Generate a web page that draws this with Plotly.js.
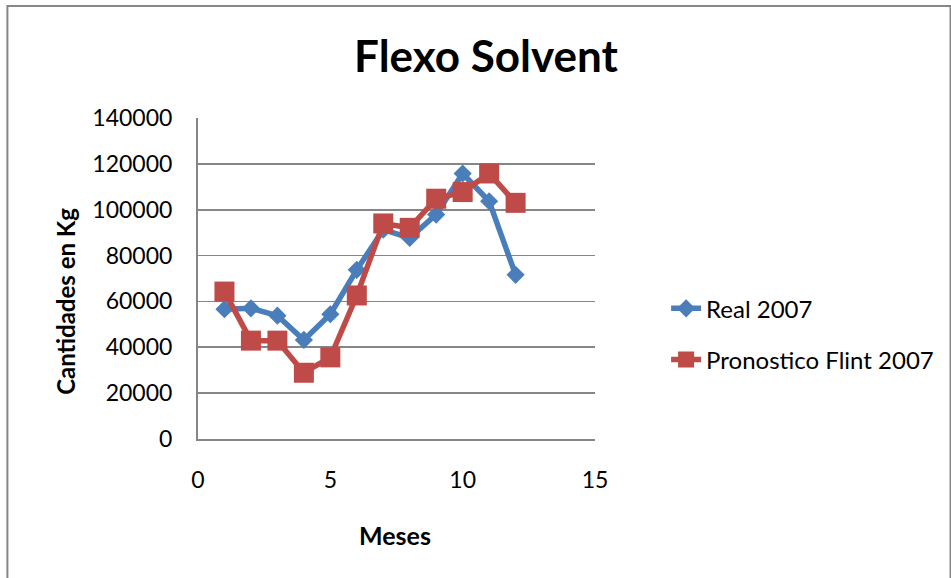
<!DOCTYPE html>
<html>
<head>
<meta charset="utf-8">
<script src="https://cdn.plot.ly/plotly-3.0.1.min.js"></script>
<style>
  html, body { margin: 0; padding: 0; background: #fff; }
  #chart { width: 951px; height: 578px; }
</style>
</head>
<body>
<div id="chart"></div>
<script>
// Monthly quantities (kg) of Flexo Solvent, 2007
const meses = [1, 2, 3, 4, 5, 6, 7, 8, 9, 10, 11, 12];
const real2007 = [56600, 57000, 53800, 43200, 54400, 73800, 91300, 87700, 97900, 115800, 103700, 71600];
const pronostico2007 = [64300, 42900, 42900, 28900, 35600, 62600, 94000, 92100, 104800, 107700, 115800, 103000];

const seriesNames = ["Real 2007", "Pronostico Flint 2007"];
const yTicks = [0, 20000, 40000, 60000, 80000, 100000, 120000, 140000];
const xTicks = [0, 5, 10, 15];

const FONT = "Lato, 'Open Sans', sans-serif";
const GRID = "#868686";

const traces = [
  {
    x: meses, y: real2007, name: seriesNames[0], type: "scatter", mode: "lines+markers",
    line: { color: "#4A7EBB", width: 5.5 },
    marker: { symbol: "diamond", size: 14, color: "#4A7EBB" },
    legendgroup: "a"
  },
  {
    x: meses, y: pronostico2007, name: seriesNames[1], type: "scatter", mode: "lines+markers",
    line: { color: "#BE4B48", width: 5.5 },
    marker: { symbol: "square", size: 20, color: "#BE4B48" },
    legendgroup: "b"
  }
];

const layout = {
  width: 951, height: 578,
  margin: { l: 198, r: 351, t: 118, b: 139 },
  paper_bgcolor: "#fff", plot_bgcolor: "#fff",
  font: { family: FONT, size: 23, color: "#000" },
  title: {
    text: "<b>Flexo Solvent</b>",
    font: { family: FONT, size: 44, color: "#000" },
    xref: "container", x: 486 / 951, xanchor: "center",
    yref: "container", y: 1 - 57 / 578, yanchor: "middle"
  },
  xaxis: {
    range: [0, 15], tickvals: xTicks, ticktext: xTicks.map(String),
    showgrid: false, zeroline: false,
    showline: true, linecolor: GRID, linewidth: 2,
    ticks: "outside", ticklen: 19, tickcolor: "rgba(0,0,0,0)",
    tickfont: { family: FONT, size: 23, color: "#000" }
  },
  yaxis: {
    range: [0, 140000], tickvals: yTicks, ticktext: yTicks.map(String),
    showgrid: true, gridcolor: GRID, gridwidth: 1.6, zeroline: false,
    showline: true, linecolor: GRID, linewidth: 2,
    ticks: "outside", ticklen: 19, tickcolor: "rgba(0,0,0,0)",
    tickfont: { family: FONT, size: 23, color: "#000" }
  },
  legend: {
    x: (672 - 198) / 402, xanchor: "left",
    y: (438.7 - 334) / 320.7, yanchor: "middle",
    font: { family: FONT, size: 24, color: "#000" },
    traceorder: "grouped", tracegroupgap: 17,
    itemwidth: 30, bgcolor: "rgba(0,0,0,0)"
  },
  annotations: [
    {
      text: "<b>Meses</b>", xref: "paper", yref: "paper",
      x: (397 - 198) / 402, y: (438.7 - 535) / 320.7,
      xanchor: "center", yanchor: "middle", showarrow: false,
      font: { family: FONT, size: 25, color: "#000" }
    },
    {
      text: "<b>Cantidades en Kg</b>", xref: "paper", yref: "paper",
      x: (63 - 198) / 402, y: (438.7 - 301) / 320.7,
      xanchor: "center", yanchor: "middle", showarrow: false, textangle: -90,
      font: { family: FONT, size: 24, color: "#000" }
    }
  ],
  shapes: [
    {
      type: "rect", xref: "paper", yref: "paper", layer: "below",
      x0: (5 - 198) / 402, x1: (960 - 198) / 402,
      y0: (438.7 - 590) / 320.7, y1: 1 + (118.3 - 6.5) / 320.7,
      line: { color: "#868686", width: 2 }, fillcolor: "rgba(0,0,0,0)"
    }
  ],
  showlegend: true
};

Plotly.newPlot("chart", traces, layout, { displayModeBar: false, staticPlot: true });
</script>
</body>
</html>
